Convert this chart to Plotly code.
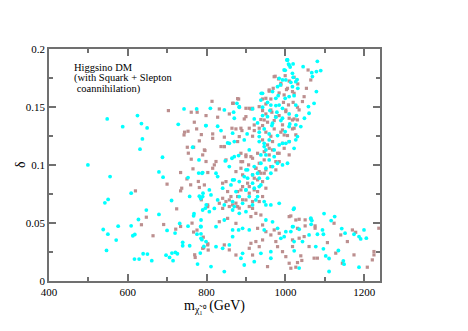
import plotly.graph_objects as go

# values
cyan_x = [
    547.7, 624.5, 634.6, 649, 587, 637, 631, 498.7, 688, 742.7, 774.7, 728, 798, 679, 689.5, 555,
    608.5, 541.8, 550, 711, 647, 679, 627, 575.5, 608.5, 537.6, 549.4, 570.5, 612.7, 617.8, 546,
    638.9, 649.8, 616.9, 628.7, 660.8, 697, 706, 712, 720.7, 725.8, 714.8, 699.6, 719.9, 731.7,
    752.8, 739.3, 739.3, 757, 777, 784, 784.9, 780.6, 779.8, 790, 752.8, 757, 768, 767, 781.5,
    790.8, 796.7, 799, 785.7, 775.6, 788, 793, 764.6, 784.9,
    1003.6, 1007.8, 1012, 999.4, 1019.6, 1029.7, 992.6, 987.5, 1013.7, 1031.4, 938.6, 967.3,
    981.6, 999.4, 1022, 954.6, 975.7, 942, 960.5, 992.6, 978.3, 1009.5, 1028, 882.9, 877, 809.5,
    845, 868.5, 916.6, 920.9, 942, 975.7, 988.4, 1011, 1026.4, 828, 836.5, 870.2, 929.3, 933.5,
    946.2, 965.6, 958.8, 980, 999.4, 798.5, 866, 902.8,
    788.4, 823.8, 828, 857.6, 870.2, 895.5, 908.2, 881.2, 864.3, 847.4, 933.5, 946.2, 950.4,
    958.8, 971.5, 984.2, 1001, 1022, 992.6, 967.3, 950.4, 937.7, 920.9, 899.8, 904, 916.6, 933.5,
    954.6, 963, 882.9, 866, 861.8, 840.7, 806.9, 811.1, 790, 828, 874.4, 899.8, 908.2, 920.9,
    937.7, 925, 891.3, 870.2, 950.4, 963, 984.2, 1022, 916.6, 992.6, 1009.5,
    790, 806.9, 819.6, 866, 882.9, 899.8, 785.8, 823.8, 844.9, 866, 866, 881.2, 891.3, 908.2,
    950.4, 967.3, 980, 988.4, 1001, 1018, 1022, 785.8, 798.5, 823.8, 840.7, 857.6, 891.3, 887.1,
    920.9, 937.7, 963, 963, 811.1, 844.9, 895.5, 996.8, 946.2, 785.8,
    1020.5, 1098, 1125, 1116, 1064.4, 1067, 1019.6, 1034.8, 1060, 1065.2, 1081.2, 1096.4, 1094,
    1142.9, 1151.3, 1174, 1186.7, 1191, 1199.4, 1205.3, 1043.3, 1077, 1096.4, 1102.3, 1110.8,
    1134.4, 1147, 1148.8, 1110.8, 1186.7, 1022.2, 1034.8, 1013.7,
    1081, 1089.6, 1078.6, 1044.9, 1066.8, 1068.5, 1078.6, 1072.7, 1058.4, 1060, 1048.2, 1039,
    1030.5, 1026.3, 1005.2, 1019.5,
    933.5, 946.1, 958.8, 950.4, 937.7, 971.5, 979.9, 929.3, 904, 895.5, 916.6, 933.5, 899.7,
    882.8, 865.9, 929.3, 946.1, 870.2, 857.5, 870.2, 1005.2, 853.3, 844.9,
    1005.2, 1009.4, 996.7, 1017.8, 984.1, 1001, 1026.3, 979.9, 1017.8, 1009.4, 941.9, 937.7,
    975.6, 963, 984.1, 1026.3, 954.5, 967.2, 992.5, 1009.4, 882.8,
]
cyan_y = [
    0.1397, 0.1426, 0.1357, 0.132, 0.133, 0.1225, 0.1136, 0.1001, 0.1067, 0.1483, 0.1483, 0.1351,
    0.134, 0.094, 0.0895, 0.090, 0.0757, 0.0674, 0.0703, 0.0694, 0.0611, 0.0574, 0.053, 0.0473,
    0.0476, 0.0444, 0.0404, 0.0353, 0.039, 0.0401, 0.0264, 0.0235, 0.0232, 0.0189, 0.0189,
    0.0175, 0.0223, 0.0203, 0.0241, 0.0246, 0.0235, 0.0175, 0.0436, 0.0413, 0.0496, 0.0473,
    0.0333, 0.0304, 0.0304, 0.0146, 0.0241, 0.047, 0.1044, 0.093, 0.0935, 0.0892, 0.0729, 0.058,
    0.0562, 0.0731, 0.0757, 0.0628, 0.0657, 0.0407, 0.0404, 0.0356, 0.0298, 0.1153, 0.0711,
    0.1905, 0.187, 0.1845, 0.1816, 0.1756, 0.1736, 0.1733, 0.169, 0.1713, 0.1661, 0.1618, 0.1633,
    0.1598, 0.1575, 0.1598, 0.154, 0.1512, 0.1498, 0.1469, 0.1489, 0.1455, 0.144, 0.1426, 0.1498,
    0.1532, 0.1489, 0.1475, 0.1455, 0.1483, 0.1397, 0.1426, 0.1412, 0.1383, 0.1354, 0.1346,
    0.1334, 0.1297, 0.1403, 0.1363, 0.1283, 0.1311, 0.134, 0.1268, 0.1254, 0.1288, 0.134, 0.1274,
    0.1268,
    0.0929, 0.0929, 0.09, 0.1187, 0.1202, 0.1216, 0.113, 0.1081, 0.1058, 0.1035, 0.1202, 0.1159,
    0.1087, 0.1044, 0.113, 0.1173, 0.1187, 0.1144, 0.1001, 0.0986, 0.0972, 0.1015, 0.0986,
    0.0958, 0.0886, 0.0915, 0.0886, 0.0886, 0.0929, 0.0857, 0.0871, 0.0828, 0.08, 0.0785, 0.0742,
    0.0728, 0.0699, 0.0771, 0.0785, 0.0728, 0.08, 0.0828, 0.0699, 0.067, 0.0642, 0.0656, 0.0656,
    0.067, 0.0627, 0.0656, 0.1187, 0.1202,
    0.0612, 0.0598, 0.0626, 0.0612, 0.0583, 0.0598, 0.0468, 0.0468, 0.0526, 0.044, 0.0382, 0.044,
    0.0454, 0.044, 0.0526, 0.051, 0.0454, 0.0368, 0.0425, 0.0468, 0.034, 0.0368, 0.034, 0.0296,
    0.0282, 0.0311, 0.0239, 0.0196, 0.0167, 0.0239, 0.0253, 0.0196, 0.0124, 0.0081, 0.0138,
    0.0382, 0.044, 0.0526,
    0.0618, 0.0581, 0.0555, 0.0521, 0.0541, 0.0521, 0.0469, 0.0446, 0.0397, 0.0489, 0.0403,
    0.0403, 0.0440, 0.0452, 0.0412, 0.0403, 0.0383, 0.0363, 0.044, 0.0369, 0.034, 0.0297, 0.0277,
    0.0216, 0.0194, 0.0263, 0.0174, 0.0145, 0.0082, 0.0119, 0.026, 0.0111, 0.0426,
    0.1894, 0.1814, 0.1805, 0.1848, 0.1796, 0.1762, 0.1633, 0.1532, 0.1504, 0.1446, 0.1403,
    0.1331, 0.1245, 0.1217, 0.1905, 0.1871,
    0.1245, 0.1187, 0.1216, 0.113, 0.1087, 0.1072, 0.1015, 0.0929, 0.0958, 0.09, 0.0843, 0.0814,
    0.0785, 0.0728, 0.0685, 0.0728, 0.0685, 0.0872, 0.0986, 0.1072, 0.1015, 0.119, 0.0656,
    0.1905, 0.1862, 0.1819, 0.179, 0.1747, 0.1733, 0.1718, 0.1675, 0.1675, 0.159, 0.1618, 0.156,
    0.1575, 0.1517, 0.1517, 0.1517, 0.1417, 0.1360, 0.1403, 0.1331, 0.1503,
]

brown_x = [
    703, 761, 776, 768.8, 774.7, 752.8, 744, 742.7, 786.6, 781.5, 751, 767, 795.8, 753.6, 761,
    765.4, 734, 750, 779, 759.5, 781.5, 736.8, 734, 699.6, 619.4, 786.6, 803, 724, 647, 634.6, 691,
    721.6, 734, 763, 775.6, 767, 791.6, 664, 803, 792.5, 769.7, 771, 804,
    974, 982.5, 988.4, 999.4, 1009.5, 1022, 958.8, 969, 984, 1002.7, 1017.9, 1031.4, 813.7, 798.5,
    881.2, 866, 942, 950.4, 963, 995, 1007.8, 1019.6, 912.4, 942, 950.4, 965.6, 984, 1001, 1022,
    1030.6, 828, 832.2, 857.6, 899.8, 937.7, 954.6, 971.5, 992.6, 1009.5, 1017.9, 895.5, 864.3,
    889.6, 908.2, 920.9, 942, 950.4, 971.5, 988.4, 1005.2, 1026.4, 815.4, 845, 874.4, 916.6,
    933.5, 963,
    794.3, 815.4, 823.8, 819.6, 836.5, 845, 849.2, 878.7, 887.1, 891.3, 899.8, 906.5, 887.1,
    874.4, 891.3, 916.6, 925, 929.3, 946.2, 958.8, 967.3, 980, 996.8, 1009.5, 984.2, 975.7, 946.2,
    933.5, 920.9, 942, 950.4, 929.3, 908.2, 887.1, 849.2, 840.7, 832.2, 857.6, 878.7, 899.8,
    908.2, 933.5, 942, 866, 802.7, 794.3, 798.5, 815.4, 790,
    802.7, 840.7, 878.7, 916.6, 925, 937.7, 912.4, 832.2, 853.3, 874.4, 929.3, 942, 950.4, 963,
    971.5, 984.2, 1009.5, 1026.4, 1030.6, 790, 802.7, 844.9, 857.6, 874.4, 908.2, 912.4, 916.6,
    925, 933.5, 942, 980, 992.6, 1001, 1009.5, 1013.7, 954.6, 975.7, 1018,
    1013.7, 1034.8, 1050, 1064.4, 1050, 1075.3, 1075.3, 1123.4, 1169.9, 1178.3, 1140.3, 1106.6,
    1157.2, 1174, 1144.5, 1127.7, 1072.8, 1081.2, 1237, 1224.7, 1224.7, 1220.5, 1207.8, 1034.8,
    1047.5, 1039, 1026.4, 1030.6, 1018, 1060, 1041.6,
    1057.5, 1064.3, 1053.3, 1047.4, 1043.2, 1034.7, 1030.5, 1022, 1009.4, 878.6, 867.6,
    941.9, 954.6, 967.2, 958.8, 946.1, 933.5, 925, 912.4, 899.7, 887.1, 916.6, 929.3, 937.7,
    950.4, 963, 975.7, 984.1, 904, 891.3, 878.6, 908.2, 920.8, 861.7, 849.1, 874.4, 891.3, 916.6,
    857.5, 882.8, 840.6, 853.3, 844.9, 992.6, 996.8, 882.8,
    971.4, 988.3, 1005.2, 996.7, 958.7, 1022, 950.3, 916.6, 908.1, 933.4, 963, 1001, 899.7,
    946.1, 975.6, 1017.8, 920.8, 992.5, 887,
]
brown_y = [
    0.1469, 0.1455, 0.1455, 0.1369, 0.1311, 0.1291, 0.1283, 0.1259, 0.1262, 0.1208, 0.1153,
    0.1153, 0.1125, 0.1102, 0.105, 0.0967, 0.0935, 0.088, 0.0858, 0.0829, 0.0806, 0.08, 0.0777,
    0.0835, 0.0777, 0.07, 0.0935, 0.0622, 0.055, 0.0485, 0.0487, 0.0447, 0.047, 0.0499, 0.0439,
    0.0422, 0.0378, 0.039, 0.0321, 0.0287, 0.0226, 0.0203, 0.0267,
    0.1765, 0.1742, 0.1704, 0.177, 0.1724, 0.1756, 0.1636, 0.1661, 0.1621, 0.165, 0.1633, 0.1699,
    0.1549, 0.1426, 0.1569, 0.1532, 0.1569, 0.1526, 0.1569, 0.154, 0.1518, 0.154, 0.1483, 0.1469,
    0.144, 0.1455, 0.1426, 0.146, 0.1397, 0.1498, 0.1412, 0.1483, 0.144, 0.1489, 0.1392, 0.1369,
    0.1383, 0.1346, 0.1403, 0.1311, 0.1397, 0.1317, 0.1297, 0.1317, 0.1297, 0.134, 0.1283,
    0.1311, 0.1283, 0.1254, 0.126, 0.1268, 0.124, 0.1311, 0.1248, 0.1317, 0.1248,
    0.113, 0.123, 0.103, 0.1001, 0.1159, 0.1159, 0.1044, 0.1202, 0.1101, 0.1029, 0.1072, 0.1001,
    0.0972, 0.0943, 0.0915, 0.1058, 0.0972, 0.1101, 0.1115, 0.1144, 0.1202, 0.1101, 0.1144,
    0.1087, 0.1029, 0.0958, 0.0929, 0.0943, 0.0886, 0.0857, 0.08, 0.0771, 0.0814, 0.0785, 0.0857,
    0.0713, 0.067, 0.0699, 0.0728, 0.0699, 0.0642, 0.0685, 0.0728, 0.0656, 0.0656, 0.0828, 0.103,
    0.0972, 0.1087,
    0.0641, 0.0626, 0.0641, 0.0626, 0.0583, 0.0569, 0.0555, 0.0511, 0.054, 0.0497, 0.0454,
    0.0483, 0.0425, 0.0397, 0.044, 0.0411, 0.0555, 0.0526, 0.0454, 0.0282, 0.0311, 0.0311,
    0.0268, 0.0224, 0.0282, 0.0325, 0.0224, 0.034, 0.0296, 0.0354, 0.0296, 0.0253, 0.021, 0.0153,
    0.011, 0.0124, 0.034, 0.0354,
    0.0561, 0.0532, 0.0527, 0.0535, 0.0475, 0.0475, 0.0455, 0.0498, 0.044, 0.042, 0.0397, 0.0331,
    0.0340, 0.0225, 0.0153, 0.0240, 0.0197, 0.0197, 0.0455, 0.0254, 0.0225, 0.0182, 0.0119,
    0.0369, 0.0383, 0.0217, 0.0119, 0.0159, 0.0297, 0.0297, 0.0177,
    0.1819, 0.1733, 0.1661, 0.1589, 0.1547, 0.1475, 0.1389, 0.1317, 0.1202, 0.1572, 0.1532,
    0.1216, 0.1173, 0.113, 0.1087, 0.1044, 0.1015, 0.0972, 0.1072, 0.1087, 0.1029, 0.0915,
    0.0872, 0.0929, 0.0958, 0.0986, 0.1029, 0.1101, 0.0843, 0.0814, 0.0771, 0.0757, 0.0785,
    0.0728, 0.0685, 0.0671, 0.07, 0.0685, 0.0642, 0.0628, 0.0843, 0.0771, 0.1159, 0.1187, 0.1259,
    0.1245,
    0.1761, 0.169, 0.1661, 0.1604, 0.1647, 0.1618, 0.1575, 0.1489, 0.1489, 0.1503, 0.1474, 0.1474,
    0.1417, 0.1388, 0.1417, 0.1388, 0.1345, 0.1302, 0.1317,
]

x_ticks = [400, 600, 800, 1000, 1200]
y_ticks = [0, 0.05, 0.1, 0.15, 0.2]
y_labels = ["0", "0.05", "0.1", "0.15", "0.2"]
note_lines = ["Higgsino DM", "(with Squark + Slepton", " coannihilation)"]

serif = "Liberation Serif, Times New Roman, serif"
frame = "#707070"

fig = go.Figure()
fig.add_trace(go.Scatter(
    x=brown_x, y=brown_y, mode="markers",
    marker=dict(symbol="square", size=3.2, color="#bc8f8f", line=dict(width=0)),
    showlegend=False,
))
fig.add_trace(go.Scatter(
    x=cyan_x, y=cyan_y, mode="markers",
    marker=dict(symbol="circle", size=3.8, color="#00ffff", line=dict(width=0)),
    showlegend=False,
))

axis_common = dict(
    showgrid=False, zeroline=False, showline=True, linecolor=frame, linewidth=1.5,
    mirror="ticks", ticks="inside", ticklen=7, tickcolor=frame, tickwidth=1.5,
    tickfont=dict(family=serif, size=11, color="black"),
)

# the page body adds an 8px offset, so the figure is sized to compensate
fig.update_layout(
    width=460, height=323,
    margin=dict(l=41, r=88, t=41, b=50),
    paper_bgcolor="white", plot_bgcolor="white",
    xaxis=dict(
        range=[400, 1240], tickvals=x_ticks,
        minor=dict(dtick=100, tick0=400, ticks="inside", ticklen=4, tickcolor=frame),
        title=dict(text="m<sub>χ̃₁⁰</sub> (GeV)", font=dict(family=serif, size=14, color="black"),
                   standoff=0),
        **axis_common,
    ),
    yaxis=dict(
        range=[0, 0.2], tickvals=y_ticks, ticktext=y_labels,
        minor=dict(dtick=0.025, tick0=0, ticks="inside", ticklen=4, tickcolor=frame),
        **axis_common,
    ),
)

fig.add_annotation(
    x=-0.0876, y=0.5, xref="paper", yref="paper", xanchor="center", yanchor="middle",
    text="δ", showarrow=False, textangle=-90,
    font=dict(family=serif, size=14, color="black"),
)

for i, line in enumerate(note_lines):
    fig.add_annotation(
        x=0.068, y=0.92 - i * 0.047, xref="paper", yref="paper", xanchor="left",
        yanchor="middle", text=line, showarrow=False,
        font=dict(family=serif, size=10.5, color="black"),
    )

fig.write_html("out.html")
